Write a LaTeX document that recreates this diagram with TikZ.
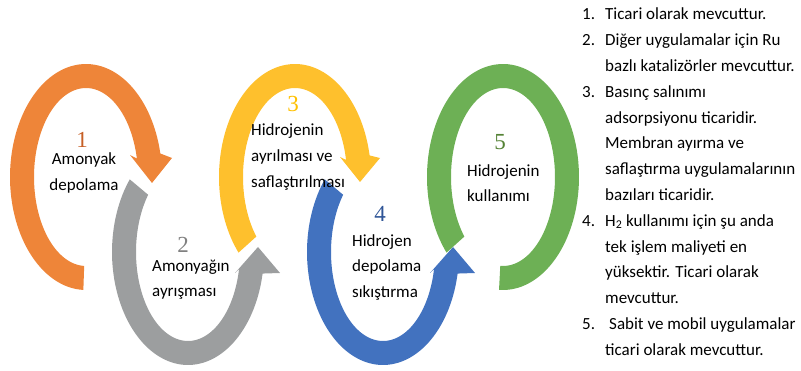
\documentclass[tikz,border=0pt]{standalone}
\usepackage{fontspec}
\setmainfont{Carlito}
\newfontfamily\numfont{Liberation Serif}
\definecolor{cOr}{HTML}{EE8539}
\definecolor{cGr}{HTML}{9C9E9F}
\definecolor{cYe}{HTML}{FEC02D}
\definecolor{cBl}{HTML}{4272BF}
\definecolor{cGn}{HTML}{6DB055}
\definecolor{tOr}{HTML}{C65F26}
\definecolor{tGr}{HTML}{808080}
\definecolor{tYe}{HTML}{FFC000}
\definecolor{tBl}{HTML}{2F5597}
\definecolor{tGn}{HTML}{548235}
\tikzset{
  lbl/.style={font=\fontsize{17}{20}\selectfont, inner sep=0pt, anchor=base west},
  lblc/.style={lbl, anchor=base},
  num/.style={font=\numfont\fontsize{23}{26}\selectfont, inner sep=0pt, anchor=base},
  lst/.style={font=\fontsize{17}{20}\selectfont, inner sep=0pt, anchor=base west},
}
\begin{document}
\begin{tikzpicture}[x=1pt,y=-1pt]
\useasboundingbox (0,0) rectangle (801,371);
% ring radii: outer 76 x 113, inner 52 x 89
% 1 orange
\fill[cOr] plot[domain=268:12,samples=90] ({86+76*cos(\x)},{177-113*sin(\x)})
  -- (172,158) -- (152,183) -- (130,155)
  -- plot[domain=12:268,samples=90] ({86+52*cos(\x)},{177-89*sin(\x)}) -- cycle;
% 2 gray
\fill[cGr] plot[domain=140:349,samples=90] ({188+76*cos(\x)},{252-113*sin(\x)})
  -- (280,273) -- (258,247) -- (235,273)
  -- plot[domain=349:140,samples=90] ({188+52*cos(\x)},{252-89*sin(\x)}) -- cycle;
% 3 yellow
\fill[cYe] plot[domain=222:11,samples=90] ({295+76*cos(\x)},{177-113*sin(\x)})
  -- (380,158) -- (360,182) -- (340,157)
  -- plot[domain=11:222,samples=90] ({295+52*cos(\x)},{177-89*sin(\x)}) -- cycle;
% 4 blue
\fill[cBl] plot[domain=140:349,samples=90] ({383+76*cos(\x)},{252-113*sin(\x)})
  -- (475,273) -- (453,247) -- (430,273)
  -- plot[domain=349:140,samples=90] ({383+52*cos(\x)},{252-89*sin(\x)}) -- cycle;
% 5 green
\fill[cGn] plot[domain=-93:222,samples=110] ({503+76*cos(\x)},{177-113*sin(\x)})
  -- plot[domain=222:-93,samples=110] ({503+52*cos(\x)},{177-89*sin(\x)}) -- cycle;

% labels
\node[num,text=tOr] (n1) at (82,148) {1};
\node[lblc] (t1a) at (84,165) {Amonyak};
\node[lblc] (t1b) at (84,191) {depolama};
\node[num,text=tGr] (n2) at (183,253) {2};
\node[lbl] (t2a) at (152,272) {Amonyağın};
\node[lbl] (t2b) at (152,297) {ayrışması};
\node[num,text=tYe] (n3) at (293,112) {3};
\node[lbl] (t3a) at (251,136) {Hidrojenin};
\node[lbl] (t3b) at (251,162) {ayrılması ve};
\node[lbl] (t3c) at (251,188) {saflaştırılması};
\node[num,text=tBl] (n4) at (380,222) {4};
\node[lbl] (t4a) at (352,247) {Hidrojen};
\node[lbl] (t4b) at (352,272) {depolama};
\node[lbl] (t4c) at (352,298) {sıkıştırma};
\node[num,text=tGn] (n5) at (500,150) {5};
\node[lbl] (t5a) at (467,177) {Hidrojenin};
\node[lbl] (t5b) at (467,202) {kullanımı};

% list
\node[lst] (m1) at (582,20) {1.};
\node[lst] (l1) at (605,20) {Ticari olarak mevcuttur.};
\node[lst] (m2) at (582,45.8) {2.};
\node[lst] (l2) at (605,45.8) {Diğer uygulamalar için Ru};
\node[lst] (l3) at (605,71.6) {bazlı katalizörler mevcuttur.};
\node[lst] (m3) at (582,97.4) {3.};
\node[lst] (l4) at (605,97.4) {Basınç salınımı};
\node[lst] (l5) at (605,123.2) {adsorpsiyonu ticaridir.};
\node[lst] (l6) at (605,149) {Membran ayırma ve};
\node[lst] (l7) at (605,174.8) {saflaştırma uygulamalarının};
\node[lst] (l8) at (605,200.6) {bazıları ticaridir.};
\node[lst] (m4) at (582,226.4) {4.};
\node[lst] (l9) at (605,226.4) {H\textsubscript{2} kullanımı için şu anda};
\node[lst] (l10) at (605,252.2) {tek işlem maliyeti en};
\node[lst] (l11) at (605,278) {yüksektir. Ticari olarak};
\node[lst] (l12) at (605,303.8) {mevcuttur.};
\node[lst] (m5) at (582,329.6) {5.};
\node[lst] (l13) at (609,329.6) {Sabit ve mobil uygulamalar};
\node[lst] (l14) at (605,355.4) {ticari olarak mevcuttur.};
\end{tikzpicture}
\end{document}
